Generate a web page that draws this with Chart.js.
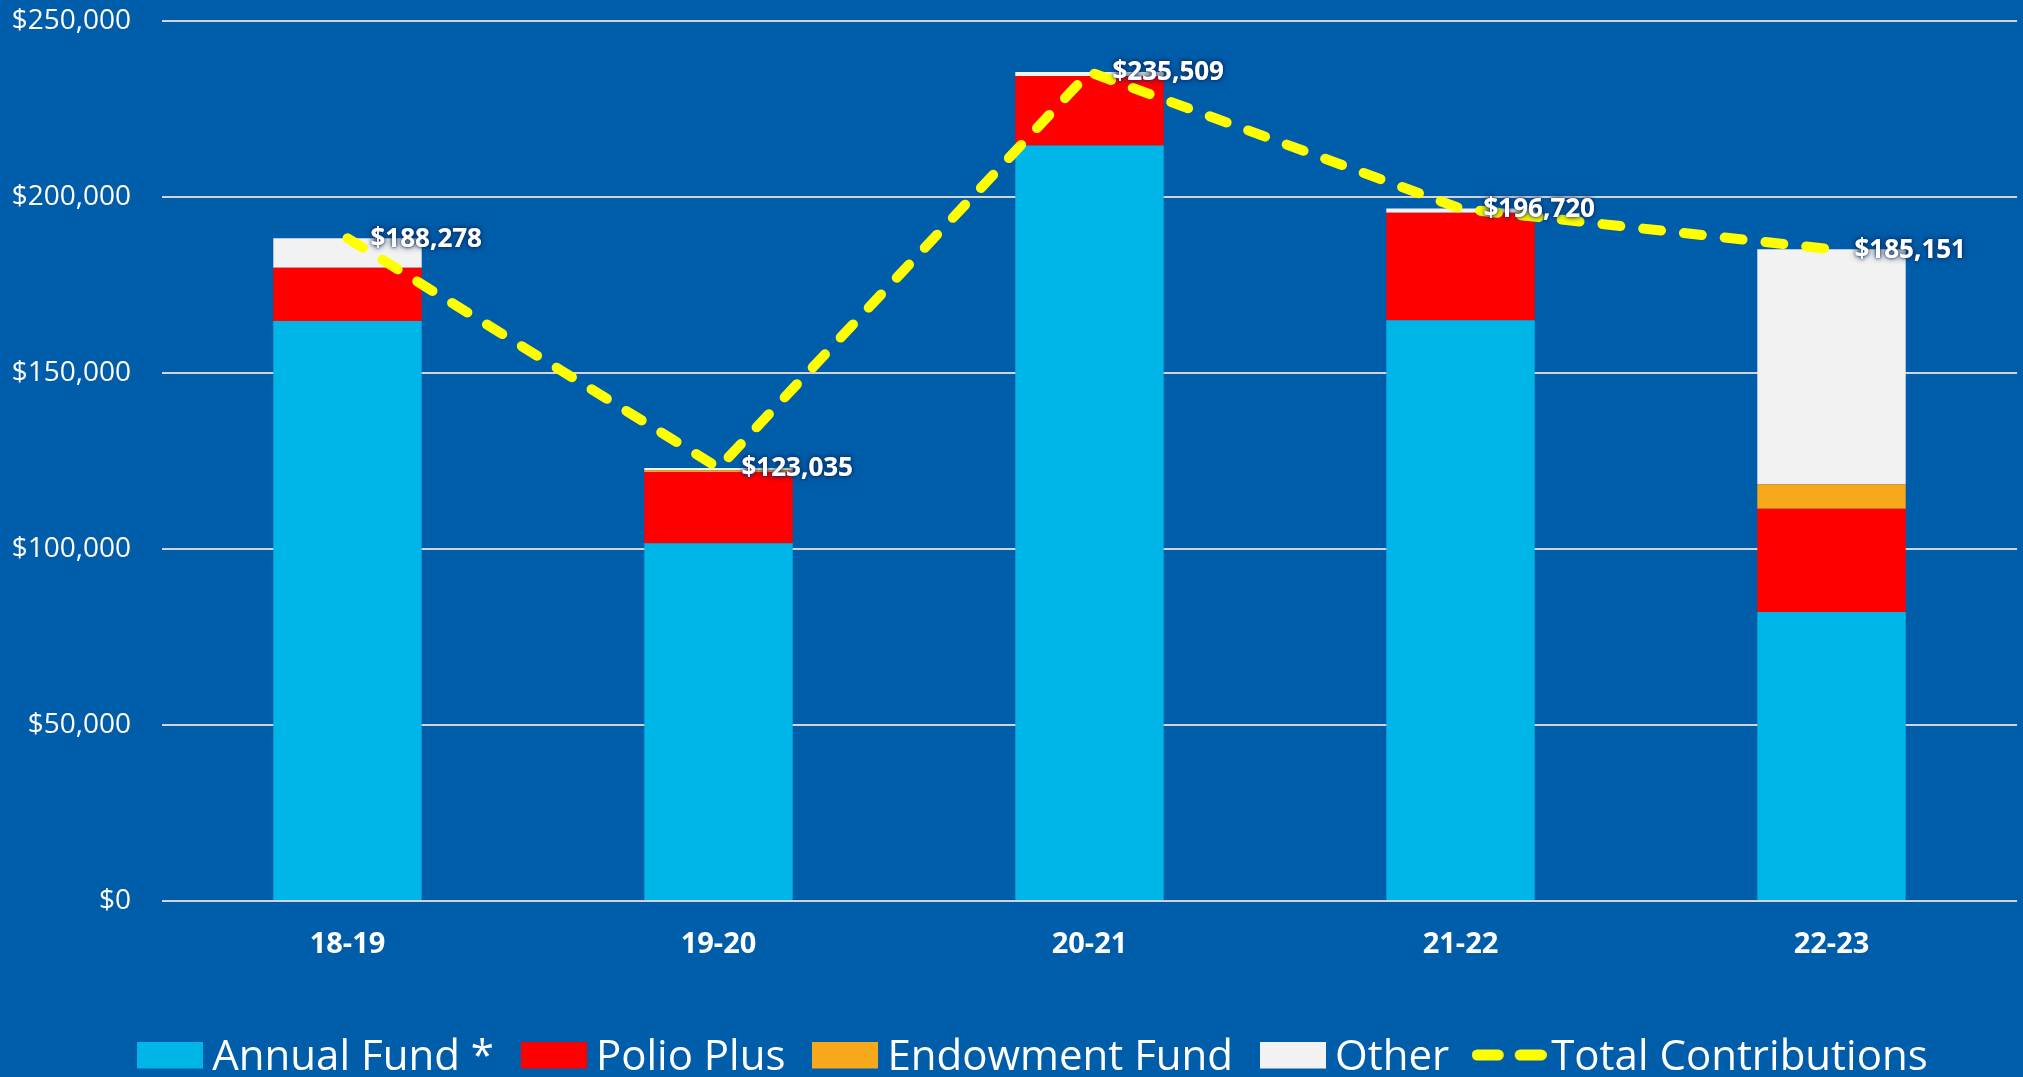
<!DOCTYPE html>
<html>
<head>
<meta charset="utf-8">
<script src="https://cdn.jsdelivr.net/npm/chart.js@4.4.1/dist/chart.umd.min.js"></script>
<style>
  html, body { margin: 0; padding: 0; background: #005DAA; }
  #wrap { width: 2023px; height: 1077px; position: relative; }
</style>
</head>
<body>
<div id="wrap"><canvas id="c" width="2023" height="1077"></canvas></div>
<script>
const categories = ['18-19', '19-20', '20-21', '21-22', '22-23'];
const annualFund = [164800, 101600, 214600, 165000, 82100];
const polioPlus = [15100, 20300, 19800, 30500, 29300];
const endowmentFund = [0, 500, 0, 0, 7000];
const other = [8378, 635, 1109, 1220, 66751];
const totalContributions = [188278, 123035, 235509, 196720, 185151];
const yTicks = [0, 50000, 100000, 150000, 200000, 250000];

const FONT = "'Open Sans', 'DejaVu Sans', sans-serif";
const fmt = v => '$' + v.toLocaleString('en-US');

function boxImg(color) {
  const c = document.createElement('canvas');
  c.width = 66; c.height = 33;
  const g = c.getContext('2d');
  g.fillStyle = color; g.fillRect(0, 0, 66, 27);
  return c;
}
function dashImg(color) {
  const c = document.createElement('canvas');
  c.width = 75; c.height = 18;
  const g = c.getContext('2d');
  g.strokeStyle = color; g.lineWidth = 11; g.lineCap = 'round';
  g.beginPath();
  g.moveTo(5.5, 6); g.lineTo(26.5, 6);
  g.moveTo(48.5, 6); g.lineTo(69.5, 6);
  g.stroke();
  return c;
}

const bgPlugin = {
  id: 'bg',
  beforeDraw(chart) {
    const ctx = chart.ctx;
    ctx.save();
    ctx.fillStyle = '#005DAA';
    ctx.fillRect(0, 0, chart.width, chart.height);
    ctx.restore();
  }
};

const legendShift = {
  id: 'legendShift',
  afterLayout(chart) {
    if (chart.legend) { chart.legend.left += 30; chart.legend.right += 30; }
  }
};

const labelPlugin = {
  id: 'totLabels',
  afterDatasetsDraw(chart) {
    const idx = chart.data.datasets.findIndex(d => d.type === 'line');
    const meta = chart.getDatasetMeta(idx);
    const ctx = chart.ctx;
    ctx.save();
    ctx.font = "bold 26px " + FONT;
    ctx.textAlign = 'left';
    ctx.textBaseline = 'middle';
    meta.data.forEach((pt, i) => {
      const txt = fmt(totalContributions[i]);
      const x = pt.x + 23, y = pt.y + 1;
      ctx.shadowColor = 'rgba(8,40,90,0.95)';
      ctx.shadowBlur = 6;
      ctx.fillStyle = '#FFFFFF';
      ctx.fillText(txt, x, y);
      ctx.shadowBlur = 3;
      ctx.fillText(txt, x, y);
    });
    ctx.restore();
  }
};

const barCommon = { type: 'bar', stack: 'funds', order: 1, barPercentage: 0.8, categoryPercentage: 0.5, borderWidth: 0 };

new Chart(document.getElementById('c'), {
  data: {
    labels: categories,
    datasets: [
      Object.assign({ label: 'Annual Fund *', data: annualFund, backgroundColor: '#00B5E8' }, barCommon),
      Object.assign({ label: 'Polio Plus', data: polioPlus, backgroundColor: '#FF0000' }, barCommon),
      Object.assign({ label: 'Endowment Fund', data: endowmentFund, backgroundColor: '#F7A81B' }, barCommon),
      Object.assign({ label: 'Other', data: other, backgroundColor: '#F2F2F2' }, barCommon),
      {
        type: 'line', label: 'Total Contributions', data: totalContributions, stack: 'total', order: 0,
        borderColor: '#FFFF00', backgroundColor: '#FFFF00', borderWidth: 10,
        borderDash: [18, 23], borderCapStyle: 'round', borderJoinStyle: 'round',
        pointRadius: 0, pointHoverRadius: 0, tension: 0, fill: false
      }
    ]
  },
  options: {
    responsive: false,
    animation: false,
    devicePixelRatio: 1,
    layout: { padding: { left: 0, right: 6, top: 21, bottom: -12 } },
    plugins: {
      tooltip: { enabled: false },
      legend: {
        position: 'bottom',
        labels: {
          color: '#FFFFFF',
          font: { family: FONT, size: 42 },
          usePointStyle: true,
          pointStyleWidth: 42,
          boxWidth: 42,
          boxHeight: 27,
          padding: 39,
          sort: (a, b) => a.datasetIndex - b.datasetIndex,
          generateLabels(chart) {
            const items = Chart.defaults.plugins.legend.labels.generateLabels(chart);
            items.forEach(it => {
              const ds = chart.data.datasets[it.datasetIndex];
              it.pointStyle = ds.type === 'line' ? dashImg(ds.borderColor) : boxImg(ds.backgroundColor);
              it.lineWidth = 0;
            });
            return items;
          }
        }
      }
    },
    scales: {
      x: {
        stacked: true,
        grid: { display: false, drawTicks: false },
        border: { display: false },
        ticks: { color: '#FFFFFF', font: { family: FONT, size: 29, weight: 'bold' }, padding: 26 },
        afterFit(scale) { scale.height = 97; }
      },
      y: {
        stacked: true,
        min: 0, max: 250000,
        afterBuildTicks(scale) { scale.ticks = yTicks.map(v => ({ value: v })); },
        grid: { color: '#D4D4D4', lineWidth: 2, drawTicks: true, tickLength: 31, tickColor: 'rgba(0,0,0,0)' },
        border: { display: false },
        ticks: {
          color: '#FFFFFF', font: { family: FONT, size: 28 }, padding: 0,
          callback: v => fmt(v)
        },
        afterFit(scale) { scale.width = 162; }
      }
    }
  },
  plugins: [bgPlugin, legendShift, labelPlugin]
});
</script>
</body>
</html>
